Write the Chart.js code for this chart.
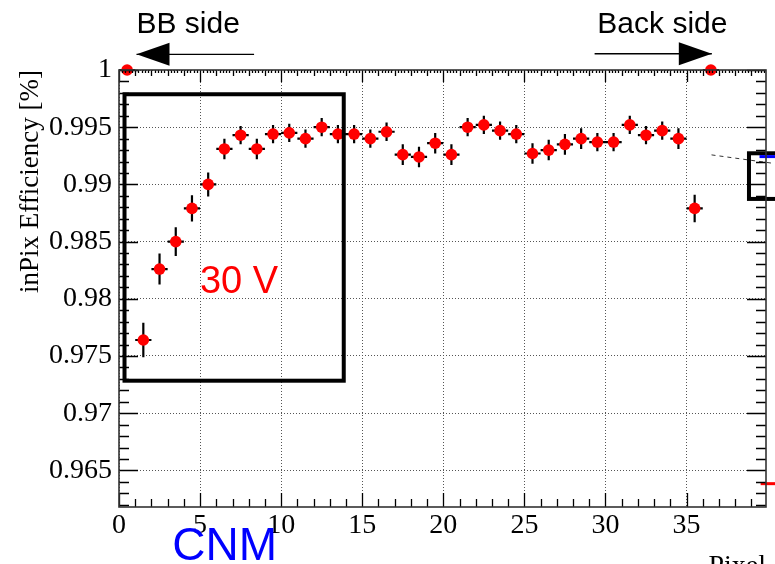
<!DOCTYPE html>
<html>
<head>
<meta charset="utf-8">
<script src="https://cdn.jsdelivr.net/npm/chart.js@4.4.0/dist/chart.umd.min.js"></script>
<style>
  html, body { margin: 0; padding: 0; background: #fff; }
  #wrap { width: 775px; height: 564px; }
</style>
</head>
<body>
<div id="wrap"><canvas id="effChart" width="775" height="564"></canvas></div>
<script>
// pixel bin centres and measured in-pixel efficiency (30 V, CNM)
const pixelBins = [0.5, 1.5, 2.5, 3.5, 4.5, 5.5, 6.5, 7.5, 8.5, 9.5, 10.5, 11.5, 12.5,
  13.5, 14.5, 15.5, 16.5, 17.5, 18.5, 19.5, 20.5, 21.5, 22.5, 23.5, 24.5, 25.5, 26.5,
  27.5, 28.5, 29.5, 30.5, 31.5, 32.5, 33.5, 34.5, 35.5, 36.5];
const efficiency = [1.0, 0.9764, 0.9826, 0.9850, 0.9879, 0.9900, 0.9931, 0.9943, 0.9931,
  0.9944, 0.9945, 0.9940, 0.9950, 0.9944, 0.9944, 0.9940, 0.9946, 0.9926, 0.9924, 0.9936,
  0.9926, 0.9950, 0.9952, 0.9947, 0.9944, 0.9927, 0.9930, 0.9935, 0.9940, 0.9937, 0.9937,
  0.9952, 0.9943, 0.9947, 0.9940, 0.9879, 1.0];
const effError = [0, 0.0015, 0.00135, 0.00125, 0.00115, 0.00105, 0.0009, 0.0008, 0.0009,
  0.0008, 0.0008, 0.0008, 0.0008, 0.0008, 0.0008, 0.0008, 0.0008, 0.0009, 0.0009, 0.0009,
  0.0009, 0.0008, 0.0008, 0.0008, 0.0008, 0.0009, 0.0009, 0.0009, 0.0009, 0.0008, 0.0008,
  0.0008, 0.0008, 0.0008, 0.0009, 0.0012, 0];
const binHalfWidth = 0.5;

const xTicks = [0, 5, 10, 15, 20, 25, 30, 35];
const xTickLabels = ['0', '5', '10', '15', '20', '25', '30', '35'];
const yTicks = [0.965, 0.97, 0.975, 0.98, 0.985, 0.99, 0.995, 1];
const yTickLabels = ['0.965', '0.97', '0.975', '0.98', '0.985', '0.99', '0.995', '1'];

const serif = 'Liberation Serif';
const sans = 'Liberation Sans';

// ROOT style inward ticks + frame
const frameTicks = {
  id: 'frameTicks',
  afterDraw(chart) {
    const { ctx, chartArea: a, scales: { x, y } } = chart;
    ctx.save();
    ctx.strokeStyle = '#000';
    ctx.lineWidth = 1.3;
    ctx.beginPath();
    for (let m = 962; m <= 1000; m++) {
      const py = Math.round(y.getPixelForValue(m / 1000)) + 0.5;
      const len = m % 5 === 0 ? 19 : 10;
      ctx.moveTo(a.left, py); ctx.lineTo(a.left + len, py);
      ctx.moveTo(a.right, py); ctx.lineTo(a.right - len, py);
    }
    for (let i = 0; i <= 39; i++) {
      const px = Math.round(x.getPixelForValue(i)) + 0.5;
      const len = i % 5 === 0 ? 14 : 8;
      ctx.moveTo(px, a.bottom); ctx.lineTo(px, a.bottom - len);
    }
    for (let k = 0; k <= 199; k++) {
      const px = Math.round(x.getPixelForValue(k / 5)) + 0.5;
      const len = k % 25 === 0 ? 12 : (k % 5 === 0 ? 6 : 3);
      ctx.moveTo(px, a.top); ctx.lineTo(px, a.top + len);
    }
    ctx.stroke();
    ctx.strokeStyle = '#333';
    ctx.lineWidth = 1.6;
    ctx.strokeRect(a.left, a.top, a.right - a.left, a.bottom - a.top);
    ctx.restore();
  }
};

// error bars drawn under the markers
const errorBars = {
  id: 'errorBars',
  beforeDatasetsDraw(chart) {
    const { ctx, scales: { x, y } } = chart;
    ctx.save();
    ctx.strokeStyle = '#000';
    ctx.lineWidth = 2.2;
    ctx.beginPath();
    pixelBins.forEach((b, i) => {
      const py = y.getPixelForValue(efficiency[i]);
      ctx.moveTo(x.getPixelForValue(b - binHalfWidth), py);
      ctx.lineTo(x.getPixelForValue(b + binHalfWidth), py);
      if (effError[i] > 0) {
        const px = x.getPixelForValue(b);
        ctx.moveTo(px, y.getPixelForValue(efficiency[i] - effError[i]));
        ctx.lineTo(px, y.getPixelForValue(efficiency[i] + effError[i]));
      }
    });
    ctx.stroke();
    ctx.restore();
  }
};

// boxes, arrows and labels of the original figure (in data coordinates)
const decorations = {
  id: 'decorations',
  afterDatasetsDraw(chart) {
    const { ctx, scales: { x, y } } = chart;
    const X = v => x.getPixelForValue(v);
    const Y = v => y.getPixelForValue(v);
    ctx.save();

    ctx.strokeStyle = '#000';
    ctx.lineWidth = 4;
    ctx.strokeRect(X(0.34), Y(0.99788), X(13.86) - X(0.34), Y(0.97284) - Y(0.99788));
    ctx.strokeRect(X(38.85), Y(0.99272), X(41) - X(38.85), Y(0.98873) - Y(0.99272));

    ctx.lineWidth = 3;
    ctx.strokeStyle = '#0000ff';
    ctx.beginPath(); ctx.moveTo(X(39.5), Y(0.99243)); ctx.lineTo(X(40.5), Y(0.99243)); ctx.stroke();
    ctx.strokeStyle = '#ff0000';
    ctx.beginPath(); ctx.moveTo(X(39.57), Y(0.96384)); ctx.lineTo(X(40.5), Y(0.96384)); ctx.stroke();

    ctx.strokeStyle = '#333';
    ctx.lineWidth = 1;
    ctx.setLineDash([4, 4]);
    ctx.beginPath(); ctx.moveTo(X(36.54), Y(0.99258)); ctx.lineTo(X(40.3), Y(0.99185)); ctx.stroke();
    ctx.setLineDash([]);

    // arrows
    const arrow = (x0, x1, yv) => {
      const y0 = Y(yv), tip = X(x1), dir = Math.sign(x1 - x0);
      ctx.strokeStyle = '#000';
      ctx.lineWidth = 1.3;
      ctx.beginPath(); ctx.moveTo(X(x0), y0); ctx.lineTo(tip, y0); ctx.stroke();
      ctx.fillStyle = '#000';
      ctx.beginPath();
      ctx.moveTo(tip, y0);
      ctx.lineTo(tip - dir * 33, y0 - 11.5);
      ctx.lineTo(tip - dir * 33, y0 + 11.5);
      ctx.closePath(); ctx.fill();
    };
    arrow(8.33, 1.08, 1.00137);
    arrow(29.33, 36.56, 1.00142);

    ctx.textAlign = 'left';
    ctx.textBaseline = 'alphabetic';
    ctx.fillStyle = '#000';
    ctx.font = '30px ' + sans;
    ctx.fillText('BB side', X(1.08), Y(1.0032));
    ctx.fillText('Back side', X(29.5), Y(1.0032));

    ctx.fillStyle = '#ff0000';
    ctx.font = '38px ' + sans;
    ctx.fillText('30 V', X(4.99), Y(0.9805));

    ctx.fillStyle = '#0000ff';
    ctx.font = '46px ' + sans;
    ctx.fillText('CNM', X(3.28), Y(0.95715));
    ctx.restore();
  }
};

const ctx = document.getElementById('effChart').getContext('2d');
const effChart = new Chart(ctx, {
  type: 'scatter',
  data: {
    datasets: [{
      data: pixelBins.map((b, i) => ({ x: b, y: efficiency[i] })),
      pointRadius: 5.8,
      pointHoverRadius: 5.8,
      pointBackgroundColor: '#ff0000',
      pointBorderWidth: 0,
      clip: false
    }]
  },
  options: {
    responsive: false,
    animation: false,
    layout: { padding: { left: 0, top: 70, right: 9, bottom: 0 } },
    plugins: { legend: { display: false }, tooltip: { enabled: false } },
    scales: {
      x: {
        type: 'linear',
        min: 0,
        max: 39.9,
        afterFit: s => { s.height = 57; },
        afterBuildTicks: s => { s.ticks = xTicks.map(v => ({ value: v })); },
        grid: { color: '#555', lineWidth: 1, drawTicks: false },
        border: { display: false, dash: [1, 2] },
        ticks: {
          color: '#000', padding: 2, font: { family: serif, size: 28 },
          callback: (v, i) => xTickLabels[i]
        },
        title: {
          display: true, text: 'Pixel', align: 'end', color: '#000',
          font: { family: serif, size: 28 }, padding: { top: 0, bottom: -19 }
        }
      },
      y: {
        type: 'linear',
        min: 0.9618,
        max: 1.0,
        afterFit: s => { s.width = 119; },
        afterBuildTicks: s => { s.ticks = yTicks.map(v => ({ value: v })); },
        grid: { color: '#555', lineWidth: 1, drawTicks: false },
        border: { display: false, dash: [1, 2] },
        ticks: {
          color: '#000', padding: 7, font: { family: serif, size: 28 },
          callback: (v, i) => yTickLabels[i]
        },
        title: {
          display: true, text: 'inPix Efficiency [%]', align: 'end', color: '#000',
          font: { family: serif, size: 27 }, padding: { top: 15, bottom: 0 }
        }
      }
    }
  },
  plugins: [errorBars, decorations, frameTicks]
});
</script>
</body>
</html>
